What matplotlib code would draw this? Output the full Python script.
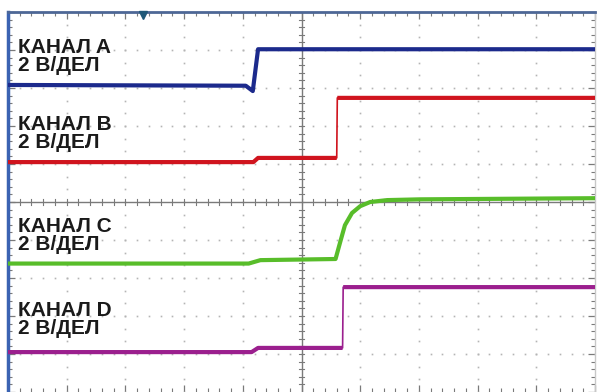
import numpy as np
import matplotlib
matplotlib.use("Agg")
import matplotlib.pyplot as plt
from matplotlib.ticker import MultipleLocator

# scope screen: 10 x 10 divisions, values in divisions
chan_names = ["КАНАЛ A", "КАНАЛ B", "КАНАЛ C", "КАНАЛ D"]
chan_scale = "2 В/ДЕЛ"
chan_colors = ["#1c2a8c", "#d0141e", "#58bd2a", "#9b1f8e"]

a_t = [0, 4.05, 4.17, 4.26, 10]
a_v = [8.08, 8.06, 7.92, 9.02, 9.02]

b_t = [0, 4.18, 4.26, 5.60, 5.61, 10]
b_v = [6.05, 6.05, 6.16, 6.16, 7.74, 7.74]

c_t = [0, 4.10, 4.30, 5.58, 5.66, 5.74, 5.86, 6.00, 6.17, 6.46, 7.02, 10]
c_v = [3.38, 3.38, 3.47, 3.50, 3.95, 4.39, 4.71, 4.89, 5.00, 5.05, 5.07, 5.10]

d_t = [0, 4.15, 4.26, 5.70, 5.71, 10]
d_v = [1.05, 1.05, 1.16, 1.16, 2.76, 2.76]

label_base = [8.92, 6.89, 4.21, 2.0]   # baseline of "КАНАЛ x" line
trig_x = 2.3

traces = [(a_t, a_v), (b_t, b_v), (c_t, c_v), (d_t, d_v)]


def plateaus(t, v):
    # break the thick line on the fast edges so they stay thin
    tt, vv = [], []
    for i in range(len(t)):
        if i > 0 and t[i] - t[i - 1] < 0.03:
            tt.append(np.nan)
            vv.append(np.nan)
        tt.append(t[i])
        vv.append(v[i])
    return tt, vv


fig = plt.figure(figsize=(5.97, 3.92), dpi=100)
ax = fig.add_axes([8 / 597, 0, 587 / 597, 380 / 392])
ax.set_xlim(0, 10)
ax.set_ylim(0, 10)

# dotted graticule
dot_c = "#b4b4b4"
for g in range(1, 10):
    if g == 5:
        continue
    xs = np.arange(0, 10.01, 0.2)
    ax.plot(xs, np.full_like(xs, g), ls="none", marker="s", ms=1.2, color=dot_c, mew=0)
    ys = np.arange(0, 10.01, 1 / 3)
    ax.plot(np.full_like(ys, g), ys, ls="none", marker="s", ms=1.2, color=dot_c, mew=0)

# centre cross with small ticks
cross_c = "#7a7a7a"
ax.axhline(5, color=cross_c, lw=1)
ax.axvline(5, color=cross_c, lw=1)
for x in np.arange(0.2, 10, 0.2):
    ax.plot([x, x], [4.92, 5.08], color=cross_c, lw=0.8)
for y in np.arange(0.2, 10, 0.2):
    ax.plot([4.95, 5.05], [y, y], color=cross_c, lw=0.8)

# edge ticks
ax.xaxis.set_major_locator(MultipleLocator(1))
ax.xaxis.set_minor_locator(MultipleLocator(0.2))
ax.yaxis.set_major_locator(MultipleLocator(1))
ax.yaxis.set_minor_locator(MultipleLocator(0.2))
ax.tick_params(which="both", direction="in", top=True, right=True, bottom=True, left=True,
               labelbottom=False, labelleft=False, color=cross_c)
ax.tick_params(which="major", length=5, width=0.9)
ax.tick_params(which="minor", length=3, width=0.8)

ax.spines["top"].set_color("#4d6796")
ax.spines["top"].set_linewidth(2)
ax.spines["left"].set_color("#3b63b2")
ax.spines["left"].set_linewidth(2.5)
ax.spines["right"].set_color("#c8c8c8")
ax.spines["right"].set_linewidth(1)
ax.spines["bottom"].set_visible(False)

# traces
for (t, v), col in zip(traces, chan_colors):
    ax.plot(t, v, color=col, lw=1.2, zorder=5)
    pt, pv = plateaus(t, v)
    ax.plot(pt, pv, color=col, lw=3.0, solid_capstyle="butt", zorder=5)

# trigger marker
ax.plot([trig_x], [9.93], marker="v", ms=6, color="#1f5878", clip_on=False, zorder=6)

# channel labels
for name, base in zip(chan_names, label_base):
    ax.text(0.17, base, name, fontsize=15, fontweight="bold", family="Liberation Sans",
            va="baseline", ha="left", color="#1a1a1a", zorder=7)
    ax.text(0.17, base - 0.47, chan_scale, fontsize=15, fontweight="bold",
            family="Liberation Sans", va="baseline", ha="left", color="#1a1a1a", zorder=7)

fig.savefig("out.png", dpi=100)
